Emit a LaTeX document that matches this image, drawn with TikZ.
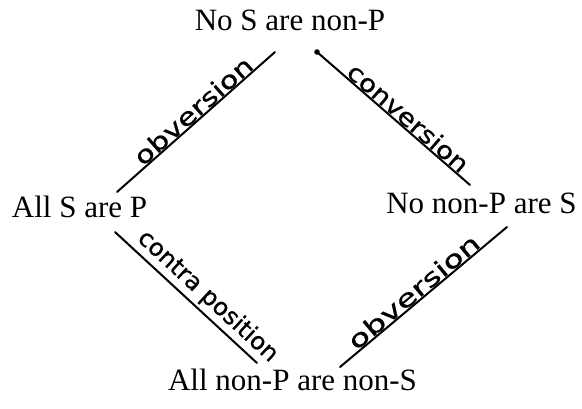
\documentclass[tikz,border=0pt]{standalone}
\usepackage{fontspec}
\setmainfont{Liberation Serif}
\newfontfamily\handfont[FakeBold=0.6]{DejaVu Sans}
\begin{document}
\begin{tikzpicture}[x=1pt,y=-1pt,
  prop/.style={font=\fontsize{31}{34}\selectfont, inner sep=0pt, anchor=base},
  hand/.style={font=\handfont\fontsize{24}{26}\selectfont, inner sep=1pt, anchor=south},
  link/.style={line width=2pt, line cap=round}]
\useasboundingbox (0,0) rectangle (582,408);
\node[prop] (top) at (290,30) {No S are non-P};
\node[prop] (left) at (79.5,217) {All S are P};
\node[prop] (right) at (481.5,213) {No non-P are S};
\node[prop] (bottom) at (292.5,390) {All non-P are non-S};
% line end points
\coordinate (a1) at (117,192); \coordinate (a2) at (275,52);
\coordinate (b1) at (317,52);  \coordinate (b2) at (470,185);
\coordinate (c1) at (115,232); \coordinate (c2) at (257,363);
\coordinate (d1) at (340,367); \coordinate (d2) at (507,227);
\draw[link] (a1) -- (a2);
\draw[link] (b1) -- (b2);
\fill (b1) circle (2.8);
\draw[link] (c1) -- (c2);
\draw[link] (d1) -- (d2);
\node[hand, rotate=41.5, xscale=1.27] (l1) at (200,118.5) {obversion};
\node[hand, rotate=-41, xscale=1.16] (l2) at (401.6,125.5) {conversion};
\node[hand, rotate=-42.7, xscale=1.01] (l3) at (199,306) {contra position};
\node[hand, rotate=40, xscale=1.39] (l4) at (420.2,299.7) {obversion};
\end{tikzpicture}
\end{document}
